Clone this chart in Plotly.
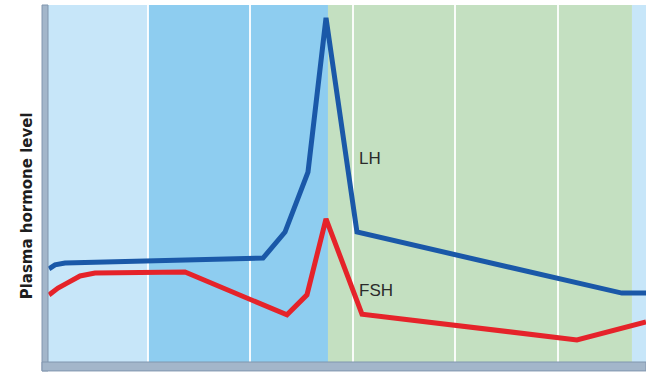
import plotly.graph_objects as go

# Phase position (arbitrary cycle units) and hormone levels (arbitrary units, 0-100)
lh_x = [0.034, 0.093, 0.19, 2.122, 2.337, 2.561, 2.737, 3.039, 5.624, 5.859]
lh_y = [26.1, 27.2, 27.7, 29.1, 36.4, 53.2, 96.4, 36.4, 19.3, 19.3]

fsh_x = [0.034, 0.122, 0.21, 0.337, 0.483, 1.361, 2.356, 2.551, 2.737, 3.088, 5.185, 5.859]
fsh_y = [18.8, 20.7, 22.1, 24.1, 24.9, 25.2, 13.2, 18.8, 40.1, 13.4, 6.2, 11.2]

# Background phase bands: (start, end, colour)
band_starts = [0.0244, 1.0, 2.756, 5.722]
band_ends = [1.0, 2.756, 5.722, 5.859]
band_colors = ["#c7e6f9", "#8ecdf0", "#c4e0c1", "#c7e6f9"]

labels = ["LH", "FSH"]
label_x = [3.04, 3.04]
label_y = [57.0, 19.9]

X_RANGE = [0.0244, 5.859]
Y_RANGE = [0, 100]

fig = go.Figure()

fig.add_trace(go.Scatter(x=lh_x, y=lh_y, mode="lines",
                         line=dict(color="#1a58a8", width=5), hoverinfo="skip"))
fig.add_trace(go.Scatter(x=fsh_x, y=fsh_y, mode="lines",
                         line=dict(color="#e5232a", width=5), hoverinfo="skip"))

shapes = []
for x0, x1, c in zip(band_starts, band_ends, band_colors):
    shapes.append(dict(type="rect", xref="x", yref="paper", x0=x0, x1=x1, y0=0, y1=1,
                       fillcolor=c, line=dict(width=0), layer="below"))
# axis bars
shapes.append(dict(type="rect", xref="paper", yref="paper", x0=-0.010, x1=0.0,
                   y0=-0.025, y1=1.0, fillcolor="#a3b6ca",
                   line=dict(color="#8096ae", width=1), layer="above"))
shapes.append(dict(type="rect", xref="paper", yref="paper", x0=-0.010, x1=1.0,
                   y0=-0.025, y1=0.0, fillcolor="#a3b6ca",
                   line=dict(color="#8096ae", width=1), layer="above"))

annotations = []
for t, x, y in zip(labels, label_x, label_y):
    annotations.append(dict(text=t, x=x, y=y, xref="x", yref="y", xanchor="left",
                            yanchor="middle", showarrow=False,
                            font=dict(family="Liberation Sans, Arial", size=17, color="#2b2b2b")))
annotations.append(dict(text="<b>Plasma hormone level</b>", xref="paper", yref="paper",
                        x=-0.0345, y=0.437, textangle=-90, showarrow=False,
                        xanchor="center", yanchor="middle",
                        font=dict(family="DejaVu Sans", size=15, color="#1e1e1e")))

fig.update_layout(
    width=646, height=373,
    margin=dict(l=48, r=0, t=5, b=11),
    paper_bgcolor="white", plot_bgcolor="white",
    showlegend=False,
    shapes=shapes, annotations=annotations,
    xaxis=dict(range=X_RANGE, showgrid=True, dtick=1, tick0=0, gridcolor="rgba(255,255,255,0.9)",
               gridwidth=1.5, showticklabels=False, zeroline=False, showline=False, ticks=""),
    yaxis=dict(range=Y_RANGE, showgrid=False, showticklabels=False, zeroline=False,
               showline=False, ticks=""),
)

fig.write_html("out.html", config={"displayModeBar": False},
               post_script="document.body.style.margin='0';document.body.style.overflow='hidden';")
